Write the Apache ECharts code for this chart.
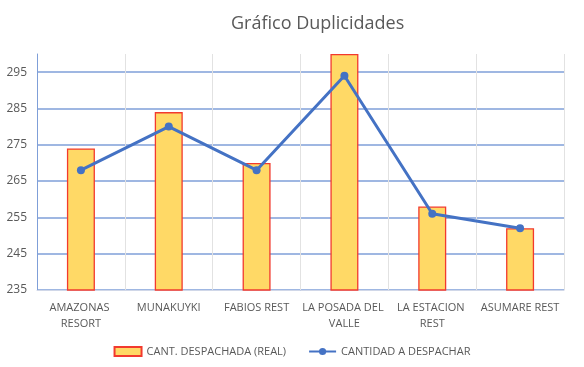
<!DOCTYPE html>
<html>
<head>
<meta charset="utf-8">
<script src="https://cdn.jsdelivr.net/npm/echarts@6/dist/echarts.min.js"></script>
<style>
  html, body { margin: 0; padding: 0; background: #fff; }
  #chart { width: 584px; height: 367px; }
</style>
</head>
<body>
<div id="chart"></div>
<script>
const categories = ["AMAZONAS RESORT", "MUNAKUYKI", "FABIOS REST", "LA POSADA DEL VALLE", "LA ESTACION REST", "ASUMARE REST"];
const despachada = [274, 284, 270, 300, 258, 252];
const aDespachar = [268, 280, 268, 294, 256, 252];

const chart = echarts.init(document.getElementById("chart"));

const font = "'Open Sans', 'Noto Sans', sans-serif";

chart.setOption({
  animation: false,
  textStyle: { fontFamily: font },
  title: {
    text: "Gráfico Duplicidades",
    left: 226,
    top: 10,
    textStyle: { fontFamily: font, fontSize: 18, fontWeight: "normal", color: "#595959" }
  },
  legend: {
    bottom: 5,
    left: "center",
    itemGap: 22,
    itemWidth: 27,
    itemHeight: 9,
    textStyle: { fontFamily: font, fontSize: 11, color: "#595959" },
    data: [
      { name: "CANT. DESPACHADA (REAL)", icon: "rect" },
      { name: "CANTIDAD A DESPACHAR" }
    ]
  },
  grid: { left: 37, right: 20, top: 54, bottom: 77 },
  xAxis: {
    type: "category",
    data: categories,
    axisTick: { show: false },
    axisLine: { lineStyle: { color: "#d0d7e8", width: 1 } },
    splitLine: { show: true, lineStyle: { color: "#e2e2e2", width: 1 } },
    axisLabel: {
      interval: 0,
      color: "#595959",
      fontSize: 11,
      fontFamily: font,
      width: 86,
      overflow: "break",
      lineHeight: 16,
      margin: 10
    }
  },
  yAxis: {
    type: "value",
    min: 235,
    max: 300,
    interval: 10,
    axisLine: { show: true, lineStyle: { color: "#7f9fd8", width: 1 } },
    axisTick: { show: false },
    splitLine: {
      lineStyle: {
        color: ["#7f9fd8", "#7f9fd8", "#7f9fd8", "#7f9fd8", "#7f9fd8", "#7f9fd8", "#7f9fd8", "rgba(0,0,0,0)"],
        width: 1.5
      }
    },
    axisLabel: {
      color: "#595959",
      fontSize: 12,
      fontFamily: font,
      showMaxLabel: false,
      margin: 10
    }
  },
  series: [
    {
      name: "CANT. DESPACHADA (REAL)",
      type: "bar",
      data: despachada,
      barWidth: 28,
      itemStyle: { color: "#FFD966", borderColor: "#F23A2E", borderWidth: 1.3 }
    },
    {
      name: "CANTIDAD A DESPACHAR",
      type: "line",
      data: aDespachar,
      symbol: "circle",
      symbolSize: 8,
      lineStyle: { color: "#4472C4", width: 3 },
      itemStyle: { color: "#4472C4" }
    }
  ]
});
</script>
</body>
</html>
